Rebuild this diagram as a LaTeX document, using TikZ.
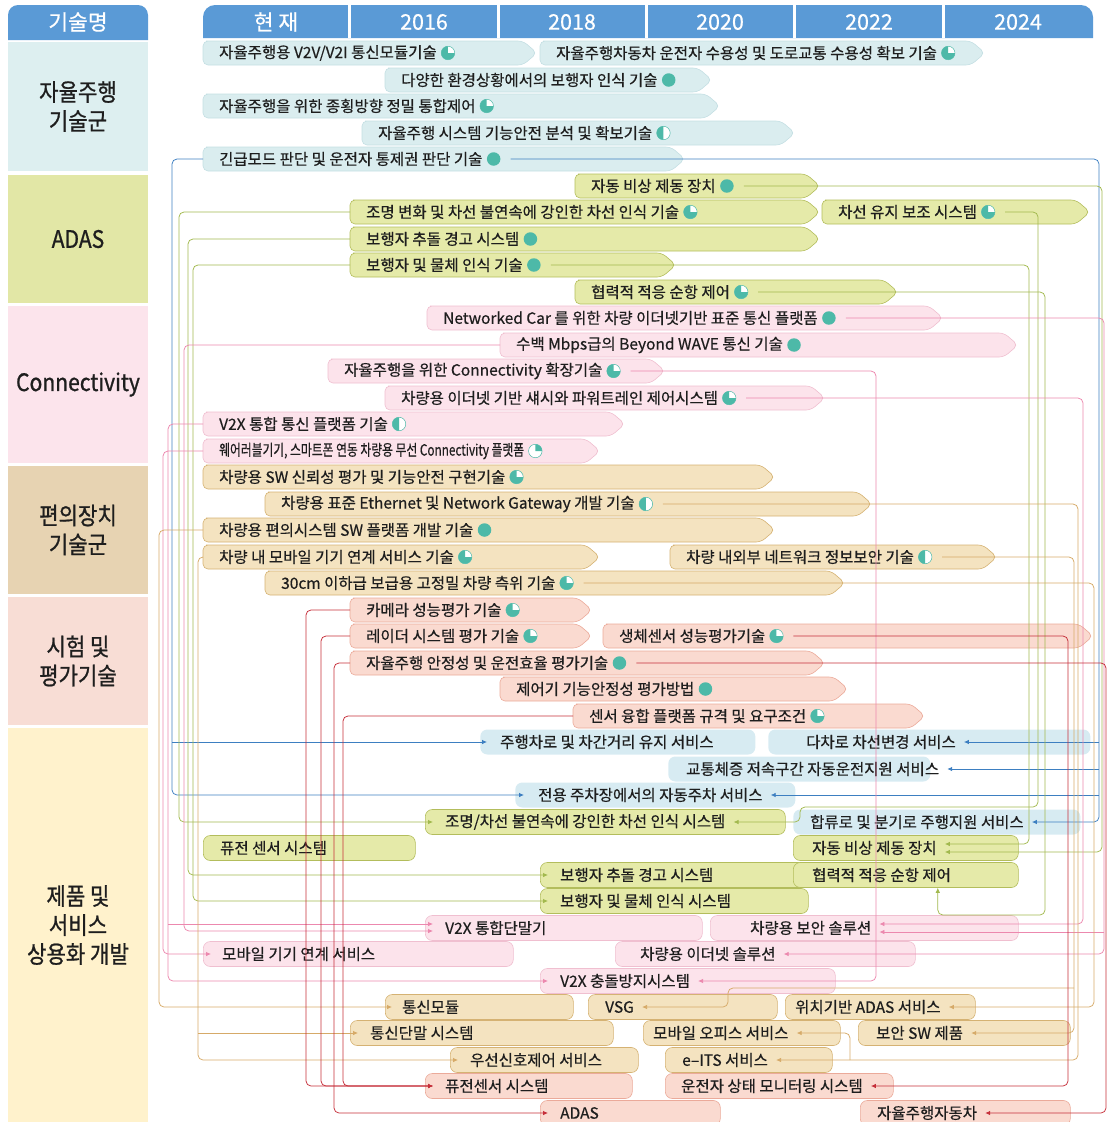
\documentclass[tikz,border=0pt]{standalone}
\usepackage{fontspec}
\usepackage{graphicx}
\setmainfont[FakeBold=0.45]{Noto Sans CJK KR}
\newfontfamily\catfont[FakeStretch=0.88,FakeBold=0.9]{Noto Sans CJK KR}
\newfontfamily\yrfont[FakeBold=0.6]{Noto Sans CJK KR}
\usetikzlibrary{arrows.meta}
\definecolor{hdr}{HTML}{5A9AD6}
\definecolor{teal1}{HTML}{4DB9A8}
\definecolor{txt}{HTML}{1E1E1E}
\definecolor{cA}{HTML}{DDEFF0}
\definecolor{cB}{HTML}{E2E7A6}
\definecolor{cC}{HTML}{FCE4EC}
\definecolor{cD}{HTML}{E7D3B2}
\definecolor{cE}{HTML}{F8DDD5}
\definecolor{cF}{HTML}{FFF2CC}
\definecolor{autoF}{HTML}{DAEDEF}\definecolor{autoD}{HTML}{C4DFE3}
\definecolor{adasF}{HTML}{E5EAA9}\definecolor{adasD}{HTML}{B3BD5C}
\definecolor{connF}{HTML}{FCE3EB}\definecolor{connD}{HTML}{F0BFD0}
\definecolor{convF}{HTML}{F4E3C0}\definecolor{convD}{HTML}{D5B273}
\definecolor{testF}{HTML}{FADAD0}\definecolor{testD}{HTML}{EBAA9A}
\definecolor{prodB}{HTML}{D7EBF2}
\definecolor{lBlue}{HTML}{3D7FC1}
\definecolor{lGreen}{HTML}{A2B94E}
\definecolor{lPink}{HTML}{EC88AE}
\definecolor{lTan}{HTML}{D6AA68}
\definecolor{lRed}{HTML}{C62F3A}
\tikzset{
 lbl/.style={inner sep=0pt, anchor=west, text=txt, font=\fontsize{15.5}{17}\selectfont},
 hold/.style={inner sep=0pt, minimum height=24pt, draw=none},
 autobar/.style={fill=autoF, draw=autoD, line width=0.6pt, rounded corners=5pt},
 adasbar/.style={fill=adasF, draw=adasD, line width=0.6pt, rounded corners=5pt},
 connbar/.style={fill=connF, draw=connD, line width=0.6pt, rounded corners=5pt},
 convbar/.style={fill=convF, draw=convD, line width=0.6pt, rounded corners=5pt},
 testbar/.style={fill=testF, draw=testD, line width=0.6pt, rounded corners=5pt},
 pfull/.style={circle, fill=teal1, minimum size=13.5pt, inner sep=0pt},
 pthree/.style={circle, draw=teal1, fill=white, line width=0.5pt, minimum size=13.5pt, inner sep=0pt,
   path picture={\fill[teal1] (path picture bounding box.center) -- ++(90:8pt) arc[start angle=90,end angle=360,radius=8pt] -- cycle;}},
 phalf/.style={circle, draw=teal1, fill=white, line width=0.5pt, minimum size=13.5pt, inner sep=0pt,
   path picture={\fill[teal1] (path picture bounding box.center) -- ++(90:8pt) arc[start angle=90,end angle=270,radius=8pt] -- cycle;}},
 pquarter/.style={circle, draw=teal1, fill=white, line width=0.5pt, minimum size=13.5pt, inner sep=0pt,
   path picture={\fill[teal1] (path picture bounding box.center) -- ++(90:8pt) arc[start angle=90,end angle=0,radius=8pt] -- cycle;}},
 prod/.style={rectangle, rounded corners=7pt, minimum height=25pt, inner sep=0pt, line width=0.6pt},
 pBlue/.style={prod, fill=prodB},
 pGreen/.style={prod, fill=adasF, draw=adasD},
 pPink/.style={prod, fill=connF, draw=connD},
 pTan/.style={prod, fill=convF, draw=convD},
 pSalmon/.style={prod, fill=testF, draw=testD},
 cat/.style={rectangle, minimum width=140pt, inner sep=0pt, align=center, text=txt, font=\catfont\fontsize{24}{29}\selectfont},
 yr/.style={text=white, inner sep=0pt, font=\yrfont\fontsize{21.5}{24}\selectfont},
 con/.style={line width=0.75pt, rounded corners=5pt, -{Latex[length=5pt,width=4.5pt]}},
 cblue/.style={con, draw=lBlue},
 cgreen/.style={con, draw=lGreen},
 cpink/.style={con, draw=lPink},
 ctan/.style={con, draw=lTan},
 cred/.style={con, draw=lRed},
}
\newcommand\tb[7]{%
 \draw[#5bar] ({#2+8},{#4-12}) -- ({#3-14},{#4-12}) -- (#3,#4) -- ({#3-14},{#4+12}) -- (#2,{#4+12}) -- (#2,{#4-12}) -- cycle;
 \node[hold, minimum width={#3-#2}, anchor=west] (#1bar) at (#2,#4) {};
 \node[lbl] (#1) at ([xshift=16pt]#1bar.west) {#6};
 \node[#7] (#1i) at ([xshift=11pt]#1.east) {};
}
\newcommand\pb[7]{%
 \node[#5, minimum width={#3-#2}, anchor=west] (#1) at (#2,#4) {};
 \node[lbl] (#1t) at ([xshift=#7pt]#1.west) {#6};
}
\begin{document}
\begin{tikzpicture}[x=1pt,y=-1pt]
\useasboundingbox (0,0) rectangle (1106,1122);
% left column
\fill[hdr] (8,40) [rounded corners=10pt] -- (8,5) -- (148,5) [sharp corners] -- (148,40) -- cycle;
\node[yr] (hn) at (78,22) {기술명};
\node[cat, fill=cA, minimum height=129pt] (k1) at (78,106.5) {자율주행\\기술군};
\node[cat, fill=cB, minimum height=128pt] (k2) at (78,239) {ADAS};
\node[cat, fill=cC, minimum height=157pt] (k3) at (78,384.5) {Connectivity};
\node[cat, fill=cD, minimum height=128pt] (k4) at (78,530) {편의장치\\기술군};
\node[cat, fill=cE, minimum height=128pt] (k5) at (78,661) {시험 및\\평가기술};
\node[cat, fill=cF, minimum height=394pt] (k6) at (78,925) {제품 및\\서비스\\상용화 개발};
% timeline header
\fill[hdr] (203,38) [rounded corners=12pt] -- (203,5) -- (1093,5) [sharp corners] -- (1093,38) -- cycle;
\foreach \x in {349.5,498.5,646.5,794.5,943.5} \draw[white, line width=2.5pt] (\x,5) -- (\x,38);
\node[yr] (y0) at (276,22) {현 재};
\node[yr] (y1) at (424,22) {2016};
\node[yr] (y2) at (572,22) {2018};
\node[yr] (y3) at (720,22) {2020};
\node[yr] (y4) at (869,22) {2022};
\node[yr] (y5) at (1018,22) {2024};
% technology bars
\tb{t1}{203}{537}{53}{auto}{자율주행용 V2V/V2I 통신모듈기술}{pthree}
\tb{u1}{540}{985}{53}{auto}{자율주행차동차 운전자 수용성 및 도로교통 수용성 확보 기술}{pthree}
\tb{t2}{385}{712}{80}{auto}{다양한 환경상황에서의 보행자 인식 기술}{pfull}
\tb{t3}{203}{720}{106}{auto}{자율주행을 위한 종횡방향 정밀 통합제어}{pthree}
\tb{t4}{362}{795}{133}{auto}{자율주행 시스템 기능안전 분석 및 확보기술}{phalf}
\tb{t5}{203}{685}{159}{auto}{긴급모드 판단 및 운전자 통제권 판단 기술}{pfull}
\tb{t6}{575}{820}{186}{adas}{자동 비상 제동 장치}{pfull}
\tb{t7}{350}{820}{212}{adas}{조명 변화 및 차선 불연속에 강인한 차선 인식 기술}{pthree}
\tb{u7}{822}{1090}{212}{adas}{차선 유지 보조 시스템}{pthree}
\tb{t8}{350}{820}{239}{adas}{보행자 추돌 경고 시스템}{pfull}
\tb{t9}{350}{676}{265}{adas}{보행자 및 물체 인식 기술}{pfull}
\tb{t10}{575}{898}{292}{adas}{협력적 적응 순항 제어}{pthree}
\tb{t11}{427}{943}{318}{conn}{Networked Car 를 위한 차량 이더넷기반 표준 통신 플랫폼}{pfull}
\tb{t12}{500}{1018}{345}{conn}{수백 Mbps급의 Beyond WAVE 통신 기술}{pfull}
\tb{t13}{328}{665}{371}{conn}{자율주행을 위한 Connectivity 확장기술}{pthree}
\tb{t14}{385}{825}{398}{conn}{차량용 이더넷 기반 섀시와 파워트레인 제어시스템}{pthree}
\tb{t15}{203}{625}{424}{conn}{V2X 통합 통신 플랫폼 기술}{phalf}
\tb{t16}{203}{600}{451}{conn}{\scalebox{0.76}[1]{웨어러블기기, 스마트폰 연동 차량용 무선 Connectivity 플랫폼}}{pquarter}
\tb{t17}{203}{775}{477}{conv}{차량용 SW 신뢰성 평가 및 기능안전 구현기술}{pthree}
\tb{t18}{265}{872}{504}{conv}{차량용 표준 Ethernet 및 Network Gateway 개발 기술}{phalf}
\tb{t19}{203}{775}{530}{conv}{차량용 편의시스템 SW 플랫폼 개발 기술}{pfull}
\tb{t20}{203}{600}{557}{conv}{차량 내 모바일 기기 연계 서비스 기술}{pthree}
\tb{u20}{670}{997}{557}{conv}{차량 내외부 네트워크 정보보안 기술}{phalf}
\tb{t21}{265}{845}{583}{conv}{30cm 이하급 보급용 고정밀 차량 측위 기술}{pthree}
\tb{t22}{350}{592}{610}{test}{카메라 성능평가 기술}{pthree}
\tb{t23}{350}{592}{636}{test}{레이더 시스템 평가 기술}{pthree}
\tb{u23}{603}{1093}{636}{test}{생체센서 성능평가기술}{pthree}
\tb{t24}{350}{825}{663}{test}{자율주행 안정성 및 운전효율 평가기술}{pfull}
\tb{t25}{500}{848}{689}{test}{제어기 기능안정성 평가방법}{pfull}
\tb{t26}{573}{925}{716}{test}{센서 융합 플랫폼 규격 및 요구조건}{pthree}
% products
\pb{p1}{480}{755}{742}{pBlue}{주행차로 및 차간거리 유지 서비스}{20}
\pb{p2}{768}{1090}{742}{pBlue}{다차로 차선변경 서비스}{38}
\pb{p3}{668}{930}{769}{pBlue}{교통체증 저속구간 자동운전지원 서비스}{18}
\pb{p4}{515}{795}{795}{pBlue}{전용 주차장에서의 자동주차 서비스}{23}
\pb{p5}{425}{785}{822}{pGreen}{조명/차선 불연속에 강인한 차선 인식 시스템}{20}
\pb{p6}{793}{1080}{822}{pBlue}{합류로 및 분기로 주행지원 서비스}{17}
\pb{p7}{203}{415}{848}{pGreen}{퓨전 센서 시스템}{17}
\pb{p8}{793}{1018}{848}{pGreen}{자동 비상 제동 장치}{19}
\pb{p9}{540}{808}{875}{pGreen}{보행자 추돌 경고 시스템}{20}
\pb{p10}{793}{1018}{875}{pGreen}{협력적 적응 순항 제어}{19}
\pb{p11}{540}{808}{901}{pGreen}{보행자 및 물체 인식 시스템}{20}
\pb{p12}{425}{702}{928}{pPink}{V2X 통합단말기}{20}
\pb{p13}{710}{1018}{928}{pPink}{차량용 보안 솔루션}{40}
\pb{p14}{203}{513}{954}{pPink}{모바일 기기 연계 서비스}{19}
\pb{p15}{615}{915}{954}{pPink}{차량용 이더넷 솔루션}{25}
\pb{p16}{540}{835}{981}{pPink}{V2X 충돌방지시스템}{20}
\pb{p17}{385}{573}{1007}{pTan}{통신모듈}{17}
\pb{p18}{588}{777}{1007}{pTan}{VSG}{17}
\pb{p19}{785}{975}{1007}{pTan}{위치기반 ADAS 서비스}{10}
\pb{p20}{350}{613}{1033}{pTan}{통신단말 시스템}{20}
\pb{p21}{643}{840}{1033}{pTan}{모바일 오피스 서비스}{10}
\pb{p22}{858}{1070}{1033}{pTan}{보안 SW 제품}{18}
\pb{p23}{450}{638}{1060}{pTan}{우선신호제어 서비스}{20}
\pb{p24}{665}{832}{1060}{pTan}{e–ITS 서비스}{17}
\pb{p25}{425}{632}{1086}{pSalmon}{퓨전센서 시스템}{20}
\pb{p26}{665}{893}{1086}{pSalmon}{운전자 상태 모니터링 시스템}{16}
\pb{p27}{540}{720}{1113}{pSalmon}{ADAS}{20}
\pb{p28}{860}{1070}{1113}{pSalmon}{자율주행자동차}{17}
% rails
\coordinate (rTs) at (159,0);
\coordinate (rPw) at (163,0);
\coordinate (rPv) at (168,0);
\coordinate (rBL) at (172,0);
\coordinate (rG1) at (179,0);
\coordinate (rPm) at (184,0);
\coordinate (rG2) at (188,0);
\coordinate (rG3) at (193,0);
\coordinate (rTm) at (198,0);
\coordinate (rR1) at (306,0);
\coordinate (rR2) at (321,0);
\coordinate (rR3) at (334,0);
\coordinate (rR4) at (343,0);
\coordinate (rPc) at (876,0);
\coordinate (rGp) at (1029,0);
\coordinate (rGl) at (1038,0);
\coordinate (rGc) at (1045,0);
\coordinate (rRb) at (1068,0);
\coordinate (rTc) at (1074,0);
\coordinate (rTg) at (1078,0);
\coordinate (rPe) at (1083,0);
\coordinate (rTp) at (1094,0);
\coordinate (rBR) at (1099,0);
\coordinate (rGa) at (1102,0);
\coordinate (rPn) at (1104,0);
\coordinate (rRa) at (1106,0);
\coordinate (jLK) at (800,807);
\coordinate (jACC) at (0,915);
\coordinate (jMO) at (850,0);
\coordinate (jVSG) at (728,988);
\coordinate (p8lo) at ([xshift=8pt,yshift=-4pt]p8t.east);
\coordinate (p8hi) at ([xshift=8pt,yshift=4pt]p8t.east);
\coordinate (p13lo) at ([xshift=8pt,yshift=-4pt]p13t.east);
\coordinate (p13hi) at ([xshift=8pt,yshift=4pt]p13t.east);
\coordinate (p12hi) at ([xshift=8pt,yshift=4pt]p12.west);
\coordinate (p12lo) at ([xshift=8pt,yshift=-3pt]p12.west);
% blue connectors
\draw[cblue] (t5bar.west) -- (rBL |- t5bar.west) |- ([xshift=9pt]p4.west);
\draw[cblue] (rBL |- p1.west) -- ([xshift=7pt]p1.west);
\draw[cblue] ([xshift=10pt]t5i.east) -| (rBR |- p6.east) -- ([xshift=8pt]p6t.east);
\draw[cblue] (rBR |- p2.east) -- ([xshift=8pt]p2t.east);
\draw[cblue] (rBR |- p3.east) -- ([xshift=8pt]p3t.east);
\draw[cblue] (rBR |- p4.east) -- ([xshift=8pt]p4t.east);
% green connectors
\draw[cgreen] ([xshift=10pt]t6i.east) -| (rGa |- p8lo) -- (p8lo);
\draw[cgreen] ([xshift=10pt]t9i.east) -| (rGp |- p8hi) -- (p8hi);
\draw[cgreen] (t7bar.west) -- (rG1 |- t7bar.west) |- ([xshift=8pt]p5.west);
\draw[cgreen] ([xshift=10pt]u7i.east) -| (rGl |- jLK) -- (jLK) |- ([xshift=8pt]p5t.east);
\draw[cgreen] (t8bar.west) -- (rG2 |- t8bar.west) |- ([xshift=8pt]p9.west);
\draw[cgreen] (t9bar.west) -- (rG3 |- t9bar.west) |- ([xshift=8pt]p11.west);
\draw[cgreen] ([xshift=10pt]t10i.east) -| (rGc |- jACC) -| ([xshift=32pt]p10.south);
% pink connectors
\draw[cpink] ([xshift=10pt]t11i.east) -| (rPn |- p15.east) -- ([xshift=8pt]p15t.east);
\draw[cpink] (rPn |- p13lo) -- (p13lo);
\draw[cpink] ([xshift=10pt]t14i.east) -| (rPe |- p13hi) -- (p13hi);
\draw[cpink] ([xshift=10pt]t13i.east) -| (rPc |- p16.east) -- ([xshift=8pt]p16t.east);
\draw[cpink] (t12bar.west) -- (rPm |- t12bar.west) |- (p12lo);
\draw[cpink] (t15bar.west) -- (rPv |- t15bar.west) |- ([xshift=8pt]p16.west);
\draw[cpink] (rPv |- p12hi) -- (p12hi);
\draw[cpink] (t16bar.west) -- (rPw |- t16bar.west) |- ([xshift=8pt]p14.west);
% tan connectors
\draw[ctan] ([xshift=10pt]t18i.east) -| (rTg |- p24.east) -- ([xshift=8pt]p24t.east);
\draw[ctan] (jMO |- p24.east) |- ([xshift=8pt]p21t.east);
\draw[ctan] (t19bar.west) -- (rTs |- t19bar.west) |- ([xshift=7pt]p17.west);
\draw[ctan] (t20bar.west) -- (rTm |- t20bar.west) |- ([xshift=8pt]p23.west);
\draw[ctan] (rTm |- p20.west) -- ([xshift=8pt]p20.west);
\draw[ctan] ([xshift=10pt]u20i.east) -| (rTc |- p22.east) -- ([xshift=8pt]p22t.east);
\draw[ctan] (rTc |- jVSG) -- (jVSG) |- ([xshift=8pt]p18t.east);
\draw[ctan] ([xshift=10pt]t21i.east) -| (rTp |- p19.east) -- ([xshift=8pt]p19t.east);
% red connectors
\draw[cred] (t22bar.west) -- (rR1 |- t22bar.west) |- ([xshift=8pt]p25.west);
\draw[cred] (t23bar.west) -- (rR2 |- t23bar.west) |- ([xshift=8pt]p25.west);
\draw[cred] (t26bar.west) -- (rR4 |- t26bar.west) |- ([xshift=8pt]p25.west);
\draw[cred] (t24bar.west) -- (rR3 |- t24bar.west) |- ([xshift=8pt]p27.west);
\draw[cred] ([xshift=10pt]u23i.east) -| (rRb |- p26.east) -- ([xshift=8pt]p26t.east);
\draw[cred] ([xshift=10pt]t24i.east) -| (rRa |- p28.east) -- ([xshift=8pt]p28t.east);
\end{tikzpicture}
\end{document}
